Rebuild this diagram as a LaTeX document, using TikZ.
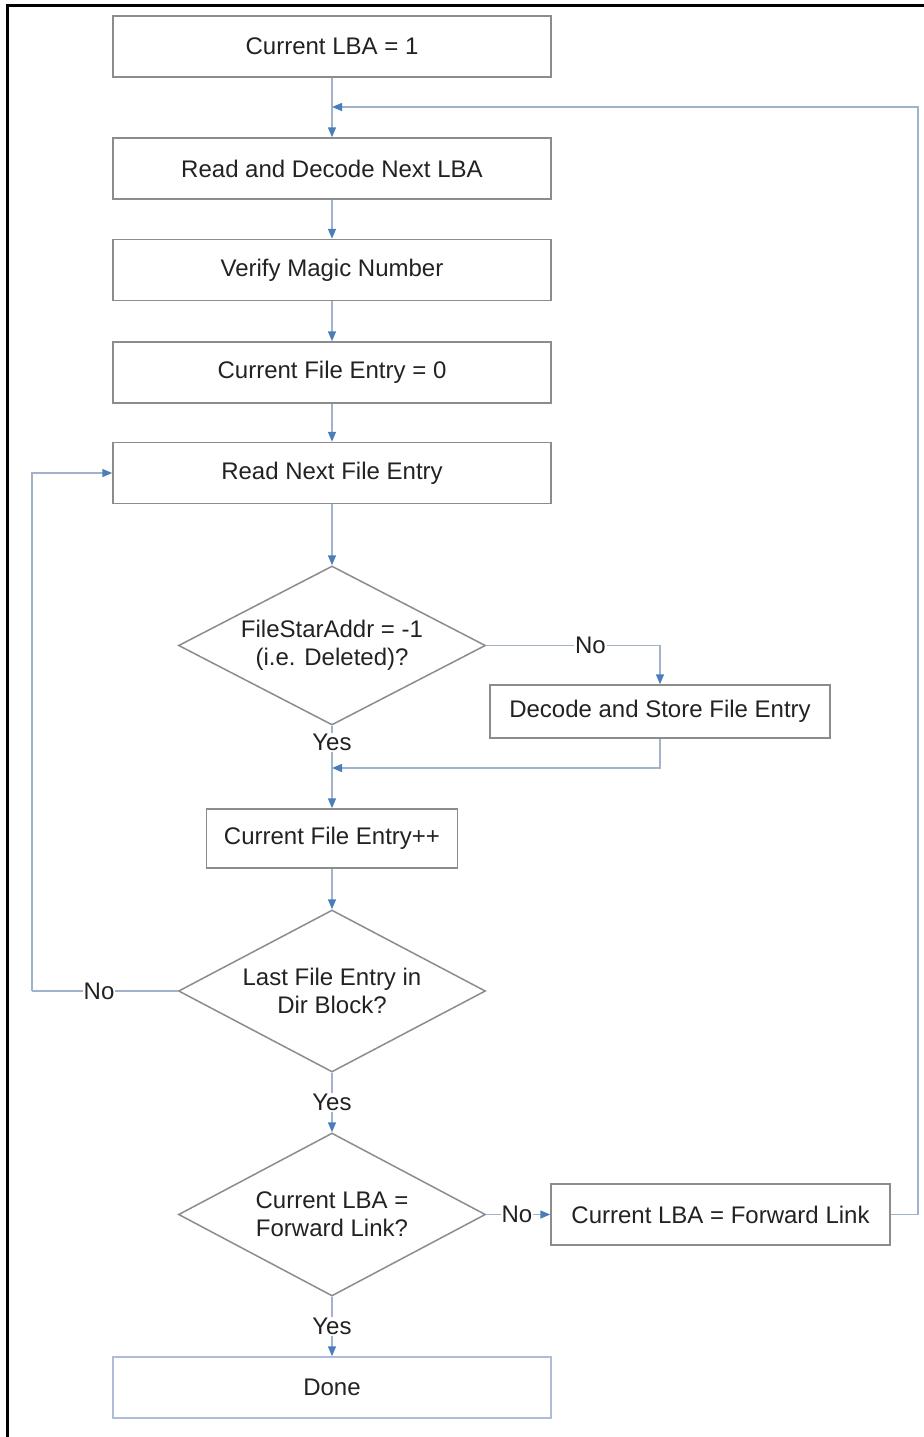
\documentclass[tikz,border=0pt]{standalone}
\usepackage{fontspec}
\setmainfont{Liberation Sans}
\usetikzlibrary{shapes.geometric,arrows.meta}
\definecolor{boxgray}{HTML}{8C8C8C}
\definecolor{linecol}{HTML}{A0B2CC}
\definecolor{tipblue}{HTML}{4A7EBB}
\definecolor{donecol}{HTML}{AEBCDA}
\definecolor{txtcol}{HTML}{222222}
\begin{document}
\begin{tikzpicture}[x=0.5pt,y=-0.5pt, font=\fontsize{12}{14}\selectfont, text=txtcol,
 stepbox/.style={draw=boxgray, line width=0.75pt, rectangle, minimum width=219pt, minimum height=30.5pt, inner sep=0pt},
 decision/.style={draw=boxgray, line width=0.75pt, diamond, aspect=1.93, minimum width=153.5pt, minimum height=79.5pt, inner sep=0pt, align=center},
 conn/.style={draw=linecol, line width=0.75pt},
 arr/.style={conn, -{Triangle[color=tipblue,length=5pt,width=4pt]}},
 lbl/.style={fill=white, inner sep=0.5pt}]
\useasboundingbox (0,0) rectangle (924,1437);
\coordinate (fa) at (7,1437);
\coordinate (fb) at (7,5);
\coordinate (fc) at (924,5);
\draw[line width=1.5pt, black] (fa) -- (fb) -- (fc);

\node[stepbox] (b1) at (332,46.5) {Current LBA = 1};
\node[stepbox] (b2) at (332,168.5) {Read and Decode Next LBA};
\node[stepbox] (b3) at (332,270) {Verify Magic Number};
\node[stepbox] (b4) at (332,372.5) {Current File Entry = 0};
\node[stepbox] (b5) at (332,473) {Read Next File Entry};
\node[decision] (d1) at (332,645.5) {FileStarAddr = -1\\(i.e. Deleted)?};
\node[stepbox, minimum width=170pt, minimum height=26.5pt] (b6) at (660,711.5) {Decode and Store File Entry};
\node[stepbox, minimum width=125.5pt, minimum height=29.5pt] (b7) at (332,838.5) {Current File Entry++};
\node[decision, minimum height=81pt] (d2) at (332,991) {Last File Entry in\\Dir Block?};
\node[decision, minimum height=81.5pt] (d3) at (332,1214.5) {Current LBA =\\Forward Link?};
\node[stepbox, minimum width=169.5pt] (b8) at (720.5,1214.5) {Current LBA = Forward Link};
\node[stepbox, draw=donecol] (b9) at (332,1387.5) {Done};

\coordinate (j1) at (332,107);
\coordinate (rt) at (918,107);
\coordinate (j2) at (332,768);
\coordinate (lc) at (32,991);

\draw[arr] (b1) -- (b2);
\draw[arr] (b2) -- (b3);
\draw[arr] (b3) -- (b4);
\draw[arr] (b4) -- (b5);
\draw[arr] (b5) -- (d1);
\draw[arr] (d1.east) -| node[lbl,pos=0.3]{No} (b6.north);
\draw[arr] (d1.south) -- node[lbl,pos=0.2]{Yes} (b7.north);
\draw[arr] (b6.south) |- (j2);
\draw[arr] (b7) -- (d2);
\draw[conn] (d2.west) -- node[lbl,pos=0.54]{No} (lc);
\draw[arr] (lc) |- (b5.west);
\draw[arr] (d2.south) -- node[lbl,pos=0.5]{Yes} (d3.north);
\draw[arr] (d3.east) -- node[lbl,pos=0.48]{No} (b8.west);
\draw[arr] (d3.south) -- node[lbl,pos=0.5]{Yes} (b9.north);
\draw[arr] (b8.east) -| (rt) -- (j1);
\end{tikzpicture}
\end{document}
